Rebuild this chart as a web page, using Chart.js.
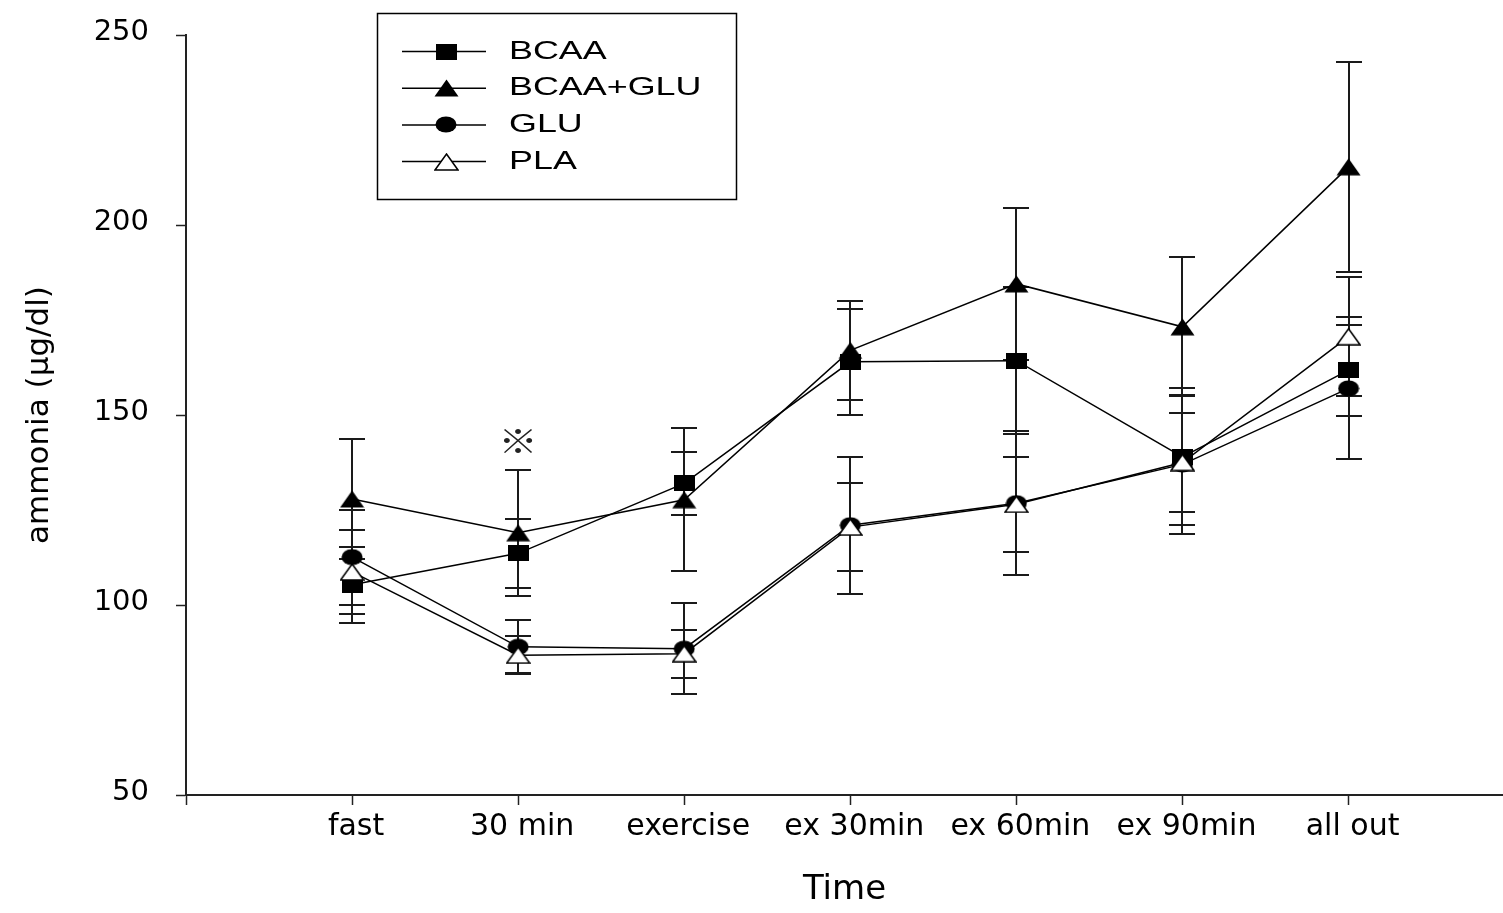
<!DOCTYPE html>
<html>
<head>
<meta charset="utf-8">
<title>ammonia</title>
<script src="https://cdn.jsdelivr.net/npm/chart.js@4.4.1/dist/chart.umd.min.js"></script>
<style>
  html, body { margin: 0; padding: 0; background: #fff; overflow: hidden; }
  #wrap { width: 1503px; height: 913px; position: relative; }
</style>
</head>
<body>
<div id="wrap"><canvas id="ammoniaChart"></canvas></div>
<script>
// sampling times along the x axis
const timePoints = ['fast', '30 min', 'exercise', 'ex 30min', 'ex 60min', 'ex 90min', 'all out'];

// mean ammonia (µg/dl) and error per group
const bcaa       = [105.3, 113.6, 132.0, 164.0, 164.3, 139.0, 161.8];
const bcaaErr    = [10.0, 9.0, 8.2, 14.0, 19.3, 18.0, 12.0];
const bcaaGlu    = [127.9, 119.0, 127.7, 167.0, 184.5, 173.2, 215.3];
const bcaaGluErr = [15.8, 16.5, 18.8, 13.0, 20.0, 18.3, 27.7];
const glu        = [112.6, 89.0, 88.5, 121.0, 126.8, 137.0, 157.0];
const gluErr     = [12.5, 7.0, 12.0, 18.0, 19.0, 18.3, 18.7];
const pla        = [108.7, 86.8, 87.2, 120.5, 126.5, 137.5, 170.6];
const plaErr     = [11.0, 5.0, 6.3, 11.5, 12.5, 13.0, 15.7];

const yTicks = [50, 100, 150, 200, 250];

// significance mark above a time point
const noteMarks = [{ at: '30 min', value: 143.2, text: '※' }];

const font = 'DejaVu Sans';

// small canvases used as point styles (slightly wide, like the printed symbols)
const makeMarker = (w, h, draw) => {
  const c = document.createElement('canvas');
  c.width = w;
  c.height = h;
  draw(c.getContext('2d'), w, h);
  return c;
};
const squareMark = makeMarker(21, 16, (g, w, h) => {
  g.fillStyle = '#000';
  g.fillRect(0, 0, w, h);
});
const triangleMark = makeMarker(25, 18, (g, w, h) => {
  g.beginPath();
  g.moveTo(w / 2, 0.5);
  g.lineTo(w - 0.5, h - 0.5);
  g.lineTo(0.5, h - 0.5);
  g.closePath();
  g.fillStyle = '#000';
  g.fill();
});
const circleMark = makeMarker(22, 17, (g, w, h) => {
  g.beginPath();
  g.ellipse(w / 2, h / 2, w / 2 - 0.5, h / 2 - 0.5, 0, 0, Math.PI * 2);
  g.fillStyle = '#000';
  g.fill();
});
const openTriangleMark = makeMarker(25, 18, (g, w, h) => {
  g.beginPath();
  g.moveTo(w / 2, 1);
  g.lineTo(w - 1, h - 1);
  g.lineTo(1, h - 1);
  g.closePath();
  g.fillStyle = '#fff';
  g.fill();
  g.lineWidth = 1.5;
  g.strokeStyle = '#000';
  g.stroke();
});

const toPoints = (values) => values.map((v, i) => ({ x: i + 1, y: v }));

const series = (label, values, errors, marker, order) => ({
  label,
  data: toPoints(values),
  errors,
  order,
  borderColor: '#000',
  borderWidth: 1.5,
  pointStyle: marker,
  pointRadius: 11,
  pointHoverRadius: 11,
  tension: 0,
  fill: false,
});

// vertical error bars with caps, drawn under lines and symbols
const errorBars = {
  id: 'errorBars',
  beforeDatasetsDraw(chart) {
    const { ctx, scales: { y } } = chart;
    ctx.save();
    ctx.strokeStyle = '#1a1a1a';
    ctx.lineWidth = 2;
    chart.data.datasets.forEach((ds, di) => {
      const meta = chart.getDatasetMeta(di);
      meta.data.forEach((pt, i) => {
        const v = ds.data[i].y;
        const e = ds.errors[i];
        const x = Math.round(pt.x);
        const top = Math.round(y.getPixelForValue(v + e));
        const bot = Math.round(y.getPixelForValue(v - e));
        ctx.beginPath();
        ctx.moveTo(x, top);
        ctx.lineTo(x, bot);
        ctx.moveTo(x - 13, top);
        ctx.lineTo(x + 13, top);
        ctx.moveTo(x - 13, bot);
        ctx.lineTo(x + 13, bot);
        ctx.stroke();
      });
    });
    ctx.restore();
  },
};

// the ※ annotation
const notes = {
  id: 'notes',
  afterDatasetsDraw(chart) {
    const { ctx, scales: { x, y } } = chart;
    ctx.save();
    ctx.fillStyle = '#222';
    ctx.textAlign = 'center';
    ctx.textBaseline = 'middle';
    ctx.font = '34px "Noto Sans CJK JP"';
    noteMarks.forEach((m) => {
      const px = x.getPixelForValue(timePoints.indexOf(m.at) + 1);
      const py = y.getPixelForValue(m.value);
      ctx.save();
      ctx.translate(px, py);
      ctx.scale(1.15, 1);
      ctx.fillText(m.text, 0, 0);
      ctx.restore();
    });
    ctx.restore();
  },
};

// boxed legend in the upper left of the plot
const boxLegend = {
  id: 'boxLegend',
  afterDraw(chart) {
    const ctx = chart.ctx;
    ctx.save();
    ctx.strokeStyle = '#000';
    ctx.lineWidth = 1.5;
    ctx.strokeRect(377.5, 13.5, 359, 186);
    chart.data.datasets.forEach((ds, i) => {
      const rowY = 51.5 + i * 36.7;
      ctx.beginPath();
      ctx.moveTo(402, rowY);
      ctx.lineTo(486, rowY);
      ctx.lineWidth = 1.5;
      ctx.stroke();
      const m = ds.pointStyle;
      ctx.drawImage(m, Math.round(446 - m.width / 2), Math.round(rowY - m.height / 2));
      ctx.save();
      ctx.translate(509, rowY);
      ctx.scale(1.38, 1);
      ctx.font = '26px "Liberation Sans"';
      ctx.textBaseline = 'middle';
      ctx.fillStyle = '#000';
      ctx.fillText(ds.label, 0, 0);
      ctx.restore();
    });
    ctx.restore();
  },
};

const ctx = document.getElementById('ammoniaChart').getContext('2d');

new Chart(ctx, {
  type: 'line',
  data: {
    datasets: [
      series('BCAA', bcaa, bcaaErr, squareMark, 4),
      series('BCAA+GLU', bcaaGlu, bcaaGluErr, triangleMark, 3),
      series('GLU', glu, gluErr, circleMark, 2),
      series('PLA', pla, plaErr, openTriangleMark, 1),
    ],
  },
  options: {
    responsive: true,
    maintainAspectRatio: false,
    animation: false,
    layout: { autoPadding: false, padding: { left: 18, top: 35, right: 0, bottom: 0 } },
    plugins: {
      legend: { display: false },
      tooltip: { enabled: false },
    },
    scales: {
      x: {
        type: 'linear',
        min: 0,
        max: 7.93,
        afterBuildTicks: (s) => {
          s.ticks = [0, ...timePoints.map((_, i) => i + 1)].map((v) => ({ value: v }));
        },
        afterFit: (s) => {
          s.height = 118;
          s.paddingLeft = 0;
          s.paddingRight = 0;
        },
        grid: { drawOnChartArea: false, drawTicks: true, tickLength: 10, tickColor: '#222', tickWidth: 1.5 },
        border: { color: '#222', width: 2 },
        ticks: {
          autoSkip: false,
          maxRotation: 0,
          padding: 4,
          labelOffset: 4,
          color: '#000',
          font: { family: font, size: 30 },
          callback: (v) => timePoints[v - 1] ?? '',
        },
        title: {
          display: true,
          text: 'Time',
          color: '#000',
          font: { family: font, size: 34 },
          padding: { top: 0, bottom: 2 },
        },
      },
      y: {
        min: 50,
        max: 250,
        afterBuildTicks: (s) => { s.ticks = yTicks.map((v) => ({ value: v })); },
        afterFit: (s) => {
          s.width = 168;
          s.paddingTop = 0;
          s.paddingBottom = 0;
        },
        grid: { drawOnChartArea: false, drawTicks: true, tickLength: 10, tickColor: '#222', tickWidth: 1.5 },
        border: { color: '#222', width: 2 },
        ticks: {
          padding: 27,
          labelOffset: -3,
          color: '#000',
          font: { family: font, size: 29 },
        },
        title: {
          display: true,
          text: 'ammonia (μg/dl)',
          color: '#000',
          font: { family: font, size: 31 },
          padding: { top: 3, bottom: 0 },
        },
      },
    },
  },
  plugins: [errorBars, notes, boxLegend],
});
</script>
</body>
</html>
